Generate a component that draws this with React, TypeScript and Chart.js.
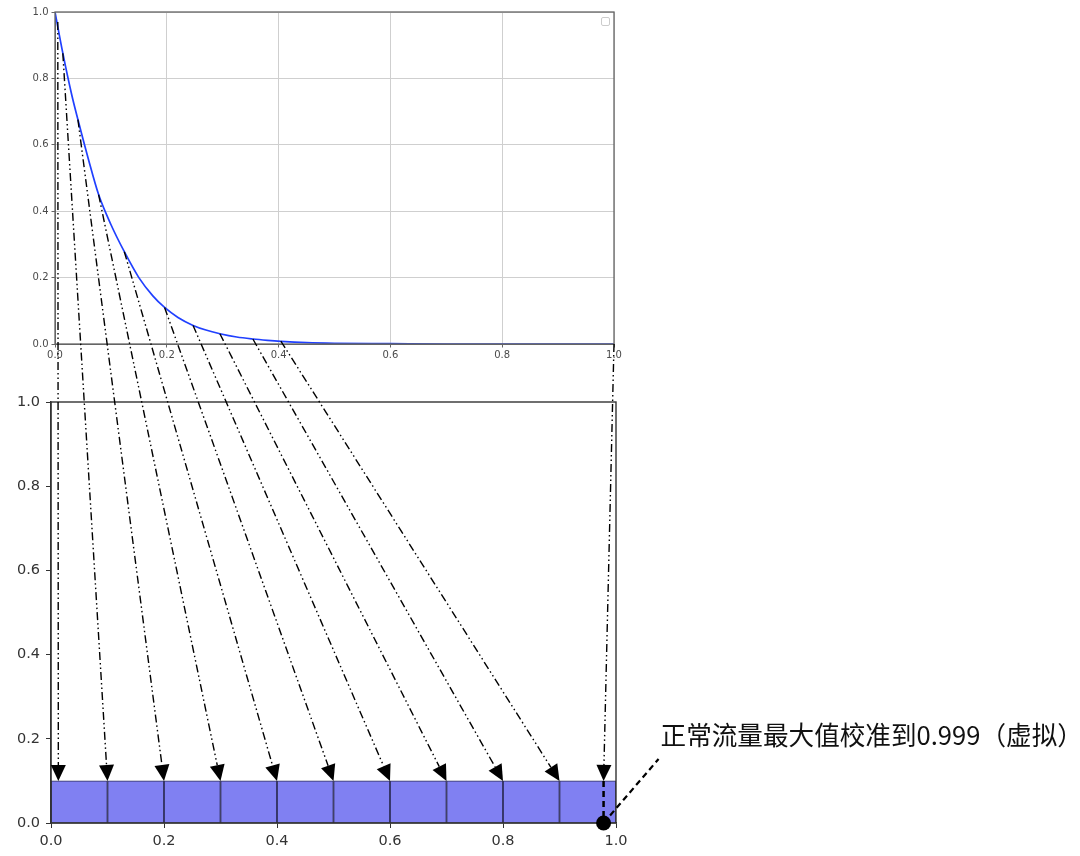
import React, { useEffect, useRef } from "react";
import { Chart, registerables } from "chart.js";
Chart.register(...registerables);

// ---- data ----
// decay curve of the upper chart
const curveX = [0, 0.014, 0.03, 0.041, 0.06, 0.078, 0.1, 0.124, 0.15, 0.175, 0.196, 0.22, 0.247, 0.27, 0.295, 0.325, 0.354, 0.38, 0.404, 0.45, 0.5, 0.6, 0.7, 0.8, 0.9, 1.0];
const curveY = [1.0, 0.876, 0.75, 0.676, 0.555, 0.45, 0.36, 0.278, 0.2, 0.145, 0.11, 0.08, 0.056, 0.042, 0.031, 0.021, 0.015, 0.011, 0.008, 0.004, 0.002, 0.001, 0, 0, 0, 0];
// tick values (both charts, both axes)
const tickValues = [0, 0.2, 0.4, 0.6, 0.8, 1.0];
// bins of the lower chart
const binCenters = [0.05, 0.15, 0.25, 0.35, 0.45, 0.55, 0.65, 0.75, 0.85, 0.95];
const binHeights = [0.1, 0.1, 0.1, 0.1, 0.1, 0.1, 0.1, 0.1, 0.1, 0.1];
// mapping arrows: start on the upper curve, end on the lower bins
const sourceX = [0.005, 0.014, 0.041, 0.078, 0.124, 0.196, 0.247, 0.295, 0.354, 0.404, 1.0];
const sourceY = [0.97, 0.876, 0.676, 0.45, 0.278, 0.11, 0.056, 0.031, 0.015, 0.009, 0.0];
const targetX = [0.013, 0.1, 0.2, 0.3, 0.4, 0.5, 0.6, 0.7, 0.8, 0.9, 0.978];
const targetY = [0.1, 0.1, 0.1, 0.1, 0.1, 0.1, 0.1, 0.1, 0.1, 0.1, 0.1];
// calibrated maximum marker
const markerX = [0.978];
const markerY = [0.0];
const annotationText = "正常流量最大值校准到0.999（虚拟）";

const W = 1080;
const H = 856;
const TOP_H = 380;

export default function App() {
  const topRef = useRef<HTMLCanvasElement | null>(null);
  const botRef = useRef<HTMLCanvasElement | null>(null);

  useEffect(() => {
    const fixedTicks = (scale: any) => {
      scale.ticks = tickValues.map((v) => ({ value: v }));
    };

    const topPlugin = {
      id: "topFrame",
      afterDraw(chart: any) {
        const { ctx, chartArea: a } = chart;
        ctx.save();
        ctx.strokeStyle = "#666";
        ctx.lineWidth = 1.3;
        ctx.strokeRect(a.left, a.top, a.right - a.left, a.bottom - a.top);
        // empty legend frame
        ctx.strokeStyle = "#cccccc";
        ctx.lineWidth = 1;
        ctx.beginPath();
        ctx.roundRect(a.right - 12.5, a.top + 5.5, 8, 8, 1.5);
        ctx.stroke();
        ctx.restore();
      },
    };

    const topChart = new Chart(topRef.current as HTMLCanvasElement, {
      type: "line",
      data: {
        datasets: [
          {
            data: curveX.map((x, i) => ({ x, y: curveY[i] })),
            borderColor: "#2040ff",
            borderWidth: 1.7,
            pointRadius: 0,
            cubicInterpolationMode: "monotone",
            fill: false,
          },
        ],
      },
      options: {
        responsive: false,
        animation: false,
        layout: { padding: { left: 0, top: 12, right: W - 614, bottom: TOP_H - 344 - 20 } },
        plugins: { legend: { display: false }, tooltip: { enabled: false } },
        scales: {
          x: {
            type: "linear",
            min: 0,
            max: 1,
            afterBuildTicks: fixedTicks,
            afterFit: (s: any) => {
              s.height = 20;
            },
            grid: { color: "#cfcfcf", lineWidth: 1, tickLength: 3.5, tickColor: "#666" },
            border: { display: true, color: "#666" },
            ticks: {
              padding: 2,
              color: "#4a4a4a",
              font: { family: "DejaVu Sans", size: 10 },
              callback: (v: any) => Number(v).toFixed(1),
              maxRotation: 0,
            },
          },
          y: {
            type: "linear",
            min: 0,
            max: 1,
            afterBuildTicks: fixedTicks,
            afterFit: (s: any) => {
              s.width = 55;
            },
            grid: { color: "#cfcfcf", lineWidth: 1, tickLength: 3.5, tickColor: "#666" },
            border: { display: true, color: "#666" },
            ticks: {
              padding: 3,
              color: "#4a4a4a",
              font: { family: "DejaVu Sans", size: 10 },
              callback: (v: any) => Number(v).toFixed(1),
            },
          },
        },
      },
      plugins: [topPlugin],
    } as any);

    const botPlugin = {
      id: "mapping",
      afterDraw(chart: any) {
        const { ctx, chartArea: a } = chart;
        const sx = chart.scales.x;
        const sy = chart.scales.y;
        const tx = topChart.scales.x;
        const ty = topChart.scales.y;
        ctx.save();
        // frame
        ctx.strokeStyle = "#333";
        ctx.lineWidth = 1.4;
        ctx.strokeRect(a.left, a.top, a.right - a.left, a.bottom - a.top);

        // arrows
        const L = 16;
        const HW = 7.5;
        for (let i = 0; i < sourceX.length; i++) {
          const x0 = tx.getPixelForValue(sourceX[i]);
          const y0 = ty.getPixelForValue(sourceY[i]);
          const x1 = sx.getPixelForValue(targetX[i]);
          const y1 = sy.getPixelForValue(targetY[i]);
          const dx = x1 - x0;
          const dy = y1 - y0;
          const len = Math.hypot(dx, dy);
          const ux = dx / len;
          const uy = dy / len;
          const bx = x1 - ux * L;
          const by = y1 - uy * L;
          ctx.strokeStyle = "#000";
          ctx.lineWidth = 1.4;
          ctx.setLineDash([8, 3, 1.5, 3, 1.5, 3]);
          ctx.beginPath();
          ctx.moveTo(x0, y0);
          ctx.lineTo(bx, by);
          ctx.stroke();
          ctx.setLineDash([]);
          ctx.fillStyle = "#000";
          ctx.beginPath();
          ctx.moveTo(x1, y1);
          ctx.lineTo(bx - uy * HW, by + ux * HW);
          ctx.lineTo(bx + uy * HW, by - ux * HW);
          ctx.closePath();
          ctx.fill();
        }

        // marker + annotation
        const mx = sx.getPixelForValue(markerX[0]);
        const my = sy.getPixelForValue(markerY[0]);
        const last = sourceX.length - 1;
        const lx = sx.getPixelForValue(targetX[last]);
        const ly = sy.getPixelForValue(targetY[last]);
        ctx.setLineDash([6, 4]);
        ctx.lineWidth = 2.5;
        ctx.beginPath();
        ctx.moveTo(lx, ly);
        ctx.lineTo(mx, my);
        ctx.stroke();
        ctx.lineWidth = 2.2;
        ctx.beginPath();
        ctx.moveTo(mx, my);
        ctx.lineTo(mx + 55, my - 64);
        ctx.stroke();
        ctx.setLineDash([]);
        ctx.fillStyle = "#000";
        ctx.beginPath();
        ctx.arc(mx, my, 7.5, 0, Math.PI * 2);
        ctx.fill();

        ctx.fillStyle = "#111";
        ctx.font = '25.6px "Noto Sans CJK SC"';
        ctx.textAlign = "left";
        ctx.textBaseline = "middle";
        ctx.fillText(annotationText, mx + 57, my - 88);
        ctx.restore();
      },
    };

    const botChart = new Chart(botRef.current as HTMLCanvasElement, {
      type: "bar",
      data: {
        datasets: [
          {
            data: binCenters.map((x, i) => ({ x, y: binHeights[i] })),
            backgroundColor: "#8080f2",
            borderColor: "#2e2e58",
            borderWidth: { top: 1, left: 1.2, right: 1.2, bottom: 0 },
            borderSkipped: false,
            barPercentage: 1,
            categoryPercentage: 1,
          },
        ],
      },
      options: {
        responsive: false,
        animation: false,
        layout: { padding: { left: 0, top: 402, right: W - 616, bottom: 0 } },
        plugins: { legend: { display: false }, tooltip: { enabled: false } },
        scales: {
          x: {
            type: "linear",
            min: 0,
            max: 1,
            offset: false,
            afterBuildTicks: fixedTicks,
            afterFit: (s: any) => {
              s.height = 33;
            },
            grid: { drawOnChartArea: false, drawTicks: true, tickLength: 5, tickColor: "#333", offset: false },
            border: { display: true, color: "#333", width: 1.4 },
            ticks: {
              padding: 5,
              color: "#333",
              font: { family: "DejaVu Sans", size: 14.5 },
              callback: (v: any) => Number(v).toFixed(1),
              maxRotation: 0,
            },
          },
          y: {
            type: "linear",
            min: 0,
            max: 1,
            afterBuildTicks: fixedTicks,
            afterFit: (s: any) => {
              s.width = 51;
            },
            grid: { drawOnChartArea: false, drawTicks: true, tickLength: 5, tickColor: "#333" },
            border: { display: true, color: "#333", width: 1.4 },
            ticks: {
              padding: 6,
              color: "#333",
              font: { family: "DejaVu Sans", size: 14.5 },
              callback: (v: any) => Number(v).toFixed(1),
            },
          },
        },
      },
      plugins: [botPlugin],
    } as any);

    return () => {
      botChart.destroy();
      topChart.destroy();
    };
  }, []);

  return (
    <div style={{ position: "absolute", left: 0, top: 0, width: W, height: H, background: "#fff" }}>
      <canvas
        ref={topRef}
        width={W}
        height={TOP_H}
        style={{ position: "absolute", left: 0, top: 0, width: W, height: TOP_H, zIndex: 0 }}
      />
      <canvas
        ref={botRef}
        width={W}
        height={H}
        style={{ position: "absolute", left: 0, top: 0, width: W, height: H, zIndex: 1 }}
      />
    </div>
  );
}
